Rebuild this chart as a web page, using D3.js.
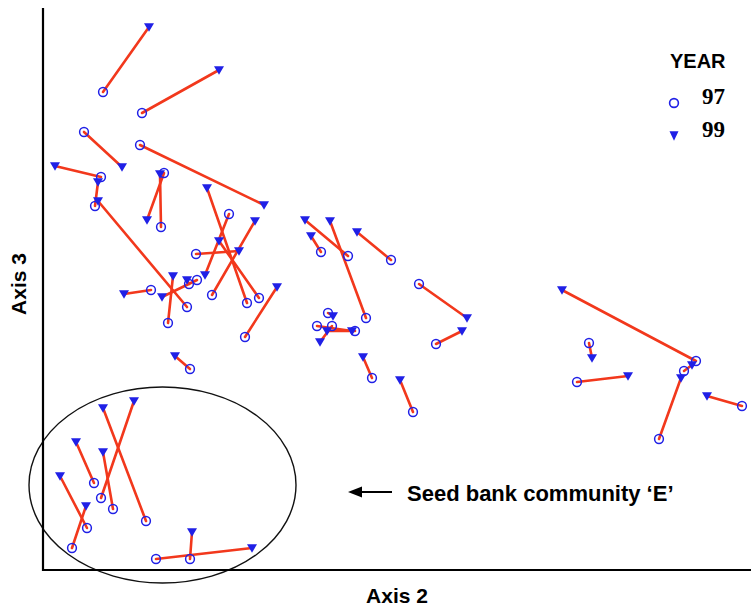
<!DOCTYPE html>
<html>
<head>
<meta charset="utf-8">
<script src="https://cdn.jsdelivr.net/npm/d3@7"></script>
<style>
  html, body { margin: 0; padding: 0; background: #fff; }
  svg { display: block; }
</style>
</head>
<body>
<svg id="chart" width="751" height="607"></svg>
<script>
// Site scores on ordination axes 2 and 3, sampled in 1997 and again in 1999.
const x97 = [0.60, 0.99, 0.41, 0.97, 0.58, 0.52, 1.44, 1.21, 1.18, 2.04, 1.86, 1.69, 2.16, 1.53, 2.02, 1.08,
             1.47, 1.25, 1.54, 1.46, 3.05, 3.23, 2.78, 3.48, 3.76, 3.93, 3.29, 3.70, 2.85, 2.74, 3.12, 2.89,
             6.53, 5.46, 5.34, 6.41, 6.16, 6.99, 1.03, 0.58, 0.51, 0.70, 0.44, 0.29, 1.47, 1.13];
const y97 = [4.78, 4.57, 4.38, 4.25, 3.93, 3.64, 2.63, 3.97, 3.43, 2.67, 3.56, 2.75, 2.72, 3.16, 2.33, 2.80,
             2.01, 2.47, 2.90, 2.86, 3.14, 2.52, 3.18, 3.10, 2.86, 2.26, 1.92, 1.58, 2.57, 2.44, 2.39, 2.44,
             2.09, 2.27, 1.88, 1.99, 1.31, 1.64, 0.49, 0.72, 0.87, 0.61, 0.42, 0.22, 0.11, 0.11];
const x99 = [1.06, 1.76, 0.79, 2.21, 0.12, 0.55, 0.55, 1.04, 1.17, 1.64, 1.62, 2.12, 1.76, 1.96, 2.34, 0.81,
             1.32, 1.30, 1.19, 1.44, 2.62, 2.87, 2.68, 3.14, 4.24, 4.19, 3.20, 3.57, 2.90, 3.09, 2.84, 2.77,
             5.19, 5.49, 5.85, 6.49, 6.38, 6.64, 0.60, 0.91, 0.33, 0.60, 0.17, 0.43, 1.49, 2.09];
const y99 = [5.43, 5.00, 4.03, 3.65, 4.04, 3.88, 3.69, 3.50, 3.96, 3.82, 2.95, 3.49, 3.29, 3.19, 2.83, 2.76,
             2.14, 2.94, 2.73, 2.90, 3.50, 3.49, 3.34, 3.38, 2.52, 2.39, 2.13, 1.90, 2.54, 2.39, 2.39, 2.28,
             2.80, 2.12, 1.94, 2.05, 1.92, 1.74, 1.62, 1.69, 1.28, 1.18, 0.94, 0.64, 0.38, 0.22];

// Outline drawn round the seed bank community 'E' sites (centre and radii in axis units).
const groupE = { label: "Seed bank community \u2018E\u2019", cx: 1.195, cy: 0.85, rx: 1.335, ry: 0.98 };

const years = ["97", "99"];
const axisTitles = ["Axis 2", "Axis 3"];

const BLUE = "#2020e6";
const RED = "#f2381c";
const SANS = "'Liberation Sans', Arial, Helvetica, sans-serif";
const SERIF = "'Liberation Serif', 'Times New Roman', serif";

const svg = d3.select("#chart");
const plotL = 43, plotR = 751, plotT = 10, plotB = 570;

const x = d3.scaleLinear().domain([0, 7.08]).range([plotL, plotR]);
const y = d3.scaleLinear().domain([0, 5.6]).range([plotB, plotT]);

const sites = x97.map((_, i) => ({ x0: x97[i], y0: y97[i], x1: x99[i], y1: y99[i] }));

// Downward-pointing triangle used for the 1999 positions.
function triDown(w, h) {
  return `M${-w / 2},${-h * 0.45}L${w / 2},${-h * 0.45}L0,${h * 0.55}Z`;
}

// Community E outline
svg.append("ellipse")
  .attr("cx", x(groupE.cx))
  .attr("cy", y(groupE.cy))
  .attr("rx", x(groupE.rx) - x(0))
  .attr("ry", y(0) - y(groupE.ry))
  .attr("fill", "none")
  .attr("stroke", "#111")
  .attr("stroke-width", 1.4);

// Axes: plain lines with no ticks
svg.append("line").attr("x1", plotL).attr("x2", plotL).attr("y1", 8).attr("y2", plotB + 1)
  .attr("stroke", "#000").attr("stroke-width", 2.2);
svg.append("line").attr("x1", plotL - 1).attr("x2", plotR).attr("y1", plotB).attr("y2", plotB)
  .attr("stroke", "#000").attr("stroke-width", 2.2);

// Movement of each site between the two years
svg.append("g").selectAll("line")
  .data(sites).join("line")
  .attr("x1", d => x(d.x0)).attr("y1", d => y(d.y0))
  .attr("x2", d => x(d.x1)).attr("y2", d => y(d.y1))
  .attr("stroke", RED).attr("stroke-width", 2.6).attr("stroke-linecap", "round");

// 1997 positions
svg.append("g").selectAll("circle")
  .data(sites).join("circle")
  .attr("cx", d => x(d.x0)).attr("cy", d => y(d.y0))
  .attr("r", 4.4)
  .attr("fill", "none").attr("stroke", BLUE).attr("stroke-width", 1.5);

// 1999 positions
svg.append("g").selectAll("path")
  .data(sites).join("path")
  .attr("transform", d => `translate(${x(d.x1)},${y(d.y1)})`)
  .attr("d", triDown(10, 8.5))
  .attr("fill", BLUE);

// Axis titles
svg.append("text")
  .attr("x", 397).attr("y", 603)
  .attr("text-anchor", "middle")
  .attr("font-family", SANS).attr("font-weight", "bold").attr("font-size", 21)
  .text(axisTitles[0]);
svg.append("text")
  .attr("transform", `translate(26,${(plotT + plotB) / 2 - 6}) rotate(-90)`)
  .attr("text-anchor", "middle")
  .attr("font-family", SANS).attr("font-weight", "bold").attr("font-size", 21)
  .text(axisTitles[1]);

// Legend
const lg = svg.append("g");
lg.append("text").attr("x", 670).attr("y", 68)
  .attr("font-family", SANS).attr("font-weight", "bold").attr("font-size", 20)
  .text("YEAR");
lg.append("circle").attr("cx", 674).attr("cy", 103).attr("r", 4.4)
  .attr("fill", "none").attr("stroke", BLUE).attr("stroke-width", 1.6);
lg.append("path").attr("transform", "translate(674,135.5)").attr("d", triDown(9, 9.5)).attr("fill", BLUE);
lg.selectAll("text.yr").data(years).join("text")
  .attr("class", "yr")
  .attr("x", 702).attr("y", (d, i) => 104 + i * 33)
  .attr("font-family", SERIF).attr("font-weight", "bold").attr("font-size", 23)
  .text(d => d);

// Annotation arrow and label for community E
svg.append("line").attr("x1", 392).attr("x2", 358).attr("y1", 492).attr("y2", 492)
  .attr("stroke", "#000").attr("stroke-width", 2);
svg.append("path").attr("d", "M348,492L362,486.5L362,497.5Z").attr("fill", "#000");
svg.append("text").attr("x", 407).attr("y", 500.5)
  .attr("font-family", SANS).attr("font-weight", "bold").attr("font-size", 22)
  .text(groupE.label);
</script>
</body>
</html>
